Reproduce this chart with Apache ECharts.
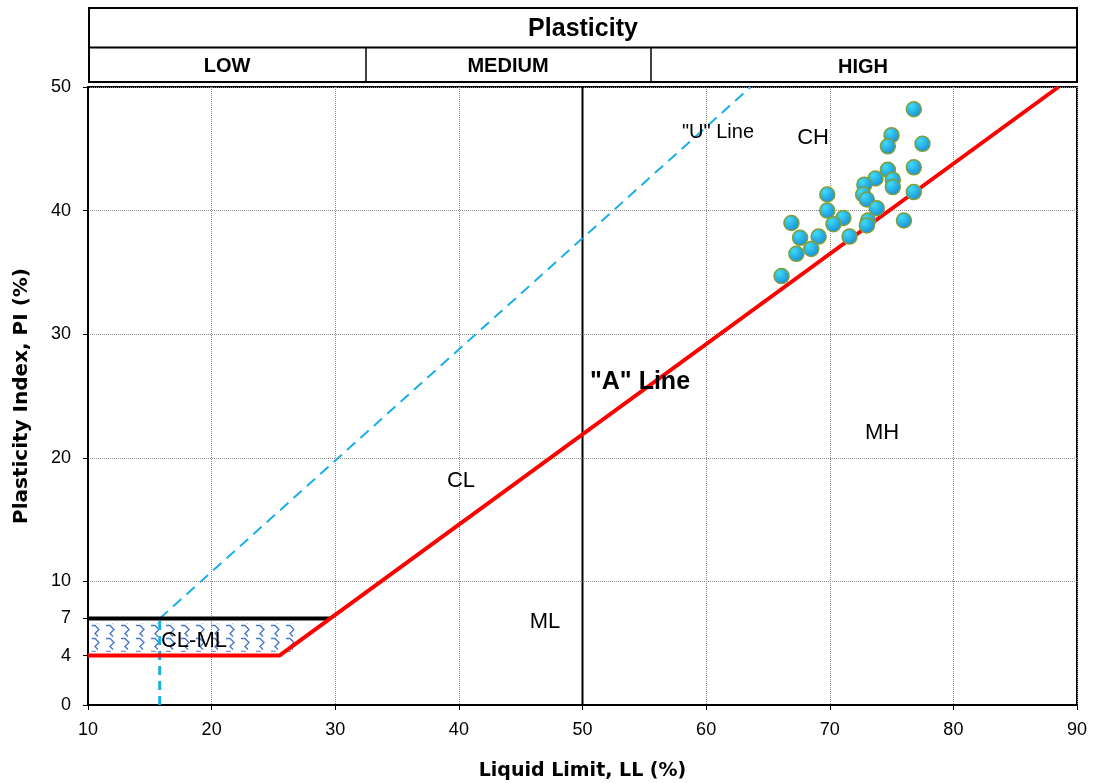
<!DOCTYPE html>
<html><head><meta charset="utf-8">
<script src="https://cdn.jsdelivr.net/npm/echarts@6/dist/echarts.min.js"></script>
<style>html,body{margin:0;padding:0;background:#fff}#c{width:1093px;height:783px}</style>
</head><body><div id="c"></div>
<script>
// ---- data ----
const xTicks = [10,20,30,40,50,60,70,80,90];
const yTickLabels = [0,4,7,10,20,30,40,50];
const aLine = [[10,4],[25.48,4],[88.5,50]];          // red "A" line incl. PI=4 segment
const clmlTop = [[10,7],[29.6,7]];                   // black PI=7 line
const uLineDiag = [[15.8,7],[63.6,50]];              // "U" line
const uLineVert = [[15.8,0],[15.8,7]];
const llDivider = [[50,0],[50,50]];
const hatchZone = [[10.3,4.3,26.7,6.6]];
const samplesLL = [76.8,75.0,74.7,77.5,76.8,74.7,75.1,75.1,73.7,72.8,72.7,73.0,76.8,73.8,69.8,69.8,71.1,70.3,73.1,73.0,76.0,66.9,67.6,69.1,71.6,68.5,67.3,66.1];
const samplesPI = [48.2,46.1,45.2,45.4,43.5,43.3,42.5,41.9,42.6,42.1,41.3,40.9,41.5,40.2,41.3,40.0,39.4,38.9,39.2,38.8,39.2,39.0,37.8,37.9,37.9,36.9,36.5,34.7];
const zoneLabels = [
  {name:'CH', v:[68.65,45.87], size:22, bold:false},
  {name:'MH', v:[74.23,22.0], size:22, bold:false},
  {name:'CL', v:[40.17,18.12], size:22, bold:false},
  {name:'ML', v:[46.97,6.72], size:22, bold:false},
  {name:'CL-ML', v:[18.57,5.18], size:22, bold:false},
  {name:'"A" Line', v:[54.65,26.13], size:25, bold:true},
  {name:'"U" Line', v:[60.96,46.36], size:20, bold:false}
];
const headerTitle = 'Plasticity';
const headerCols = ['LOW','MEDIUM','HIGH'];

// ---- pattern for CL-ML zone ----
const pc = document.createElement('canvas');
pc.width = 15; pc.height = 13;
const g = pc.getContext('2d');
g.strokeStyle = '#4a78c8'; g.lineWidth = 1.4;
g.beginPath();
g.moveTo(1,1.5); g.lineTo(5,1.5); g.lineTo(9,5.5); g.lineTo(5,9.5); g.lineTo(8,12.5);
g.stroke();

const FONT = '"Liberation Sans", Arial, sans-serif';
const TFONT = '"DejaVu Sans", Verdana, sans-serif';
const chart = echarts.init(document.getElementById('c'));
const scatterData = samplesLL.map((x,i)=>[x,samplesPI[i]]);

const L = 88, R = 1077;
chart.setOption({
  animation:false,
  textStyle:{fontFamily:FONT},
  grid:{left:L, right:1093-R, top:87, bottom:78, containLabel:false, outerBoundsMode:'none',
    show:true, borderColor:'#000', borderWidth:2, backgroundColor:'#fff'},
  xAxis:{type:'value', min:10, max:90, interval:10,
    name:'Liquid Limit, LL (%)', nameLocation:'middle', nameGap:57,
    nameTextStyle:{fontFamily:TFONT, fontWeight:'bold', fontSize:19, color:'#000'},
    axisLine:{show:true, onZero:false, lineStyle:{color:'#000', width:2}},
    axisTick:{show:true, length:5, lineStyle:{color:'#000'}},
    axisLabel:{fontFamily:FONT, fontSize:18, color:'#000', margin:16},
    splitLine:{show:true, lineStyle:{color:'#8c8c8c', type:'dotted', width:1}}
  },
  yAxis:[{type:'value', min:0, max:50, interval:10,
    name:'Plasticity Index, PI (%)', nameLocation:'middle', nameGap:56, nameRotate:90,
    nameTextStyle:{fontFamily:TFONT, fontWeight:'bold', fontSize:20, color:'#000'},
    axisLine:{show:true, lineStyle:{color:'#000', width:2}},
    axisTick:{show:true, length:5, customValues:yTickLabels, lineStyle:{color:'#000'}},
    axisLabel:{fontFamily:FONT, fontSize:18, color:'#000', margin:17, customValues:yTickLabels},
    splitLine:{show:false}
  },{type:'value', min:0, max:50, interval:10,
    axisLine:{show:false}, axisTick:{show:false}, axisLabel:{show:false},
    splitLine:{show:true, lineStyle:{color:'#8c8c8c', type:'dotted', width:1}}
  }],
  series:[
    {type:'custom', z:2, data:hatchZone, renderItem:function(params, api){
        const p0 = api.coord([api.value(0), api.value(3)]);
        const p1 = api.coord([api.value(2), api.value(1)]);
        return {type:'rect', shape:{x:p0[0], y:p0[1], width:p1[0]-p0[0], height:p1[1]-p0[1]},
          style:{fill:{image:pc, repeat:'repeat'}}};
      }},
    {type:'line', data:llDivider, symbol:'none', z:3, lineStyle:{color:'#000', width:2}},
    {type:'line', data:uLineDiag, symbol:'none', z:3, lineStyle:{color:'#1aaee8', width:2, type:[11,7]}},
    {type:'line', data:uLineVert, symbol:'none', z:3, lineStyle:{color:'#1aaee8', width:3, type:[9,6]}},
    {type:'line', data:clmlTop, symbol:'none', z:4, lineStyle:{color:'#000', width:4}},
    {type:'line', data:aLine, symbol:'none', z:4, lineStyle:{color:'#ff0000', width:4}},
    {type:'scatter', data:scatterData, z:6, symbol:'circle', symbolSize:15,
      itemStyle:{opacity:1, color:{type:'radial', x:0.35, y:0.3, r:0.8, colorStops:[{offset:0,color:'#3fdcf5'},{offset:1,color:'#1284d8'}]},
        borderColor:'#7f9f3a', borderWidth:1.5}},
    {type:'scatter', z:7, symbolSize:0, silent:true, itemStyle:{opacity:1},
      data:zoneLabels.map(d=>({value:d.v, label:{show:true, position:'inside', formatter:d.name,
        fontFamily:FONT, fontSize:d.size, fontWeight:d.bold?'bold':'normal', color:'#000'}}))}
  ],
  graphic:[
    {type:'rect', shape:{x:89, y:8, width:988, height:74}, style:{fill:'#fff', stroke:'#000', lineWidth:2}},
    {type:'line', shape:{x1:89, y1:47.5, x2:1077, y2:47.5}, style:{stroke:'#000', lineWidth:2}},
    {type:'line', shape:{x1:366, y1:47, x2:366, y2:82}, style:{stroke:'#000', lineWidth:1.5}},
    {type:'line', shape:{x1:651, y1:47, x2:651, y2:82}, style:{stroke:'#000', lineWidth:1.5}},
    {type:'text', x:583, y:29, style:{text:headerTitle, font:'bold 25px '+FONT, fill:'#000', align:'center', verticalAlign:'middle'}},
    {type:'text', x:227, y:66, style:{text:headerCols[0], font:'bold 20px '+FONT, fill:'#000', align:'center', verticalAlign:'middle'}},
    {type:'text', x:508, y:66, style:{text:headerCols[1], font:'bold 20px '+FONT, fill:'#000', align:'center', verticalAlign:'middle'}},
    {type:'text', x:863, y:67, style:{text:headerCols[2], font:'bold 20px '+FONT, fill:'#000', align:'center', verticalAlign:'middle'}}
  ]
});
</script></body></html>
